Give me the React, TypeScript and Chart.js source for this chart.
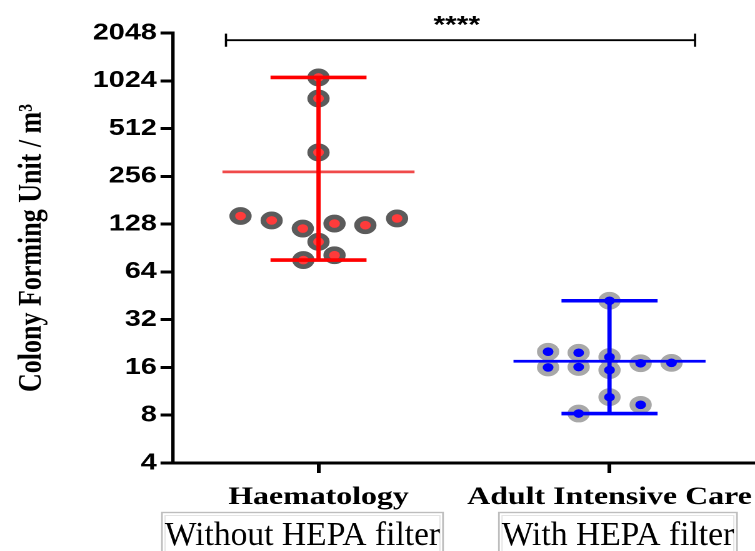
import { useEffect, useRef } from 'react';
import { Chart, registerables } from 'chart.js';

Chart.register(...registerables);

// The reference image is stretched sideways, so the chart is drawn on a
// narrower canvas and widened with CSS to the page width.
const PAGE_W = 755;
const PAGE_H = 551;
const STRETCH = 1.25;

const categories = ['Haematology', 'Adult Intensive Care'];
const filterLabels = ['Without HEPA filter', 'With HEPA filter'];
const yTicks = [4, 8, 16, 32, 64, 128, 256, 512, 1024, 2048];

// CFU / m3 per sample, and the sideways spread of each dot in its column
const haemValues = [1075, 792, 362, 144, 135, 120, 129, 126, 139, 99, 76, 81.5];
const haemSpread = [0, 0, 0, -0.268, -0.161, -0.054, 0.055, 0.161, 0.27, 0, -0.052, 0.055];
const aicValues = [42.1, 20.1, 16.0, 19.8, 16.1, 18.6, 15.4, 17.0, 17.1, 10.4, 9.3, 8.2];
const aicSpread = [0, -0.211, -0.211, -0.106, -0.106, 0, 0, 0.107, 0.213, 0, 0.107, -0.106];

// significance bracket between the two groups
const sigSpan = [-0.318, 1.294];
const sigLevel = 1845;
const sigText = '****';

const serif = '"Liberation Serif", "Times New Roman", serif';
const sans = '"Liberation Sans", Arial, sans-serif';

const mean = (v: number[]) => v.reduce((s, n) => s + n, 0) / v.length;

const line = (data: { x: number; y: number }[], color: string, width: number) => ({
  data,
  showLine: true,
  borderColor: color,
  borderWidth: width,
  pointRadius: 0,
  fill: false,
  clip: false as const,
});

// range bar with caps plus the mean line for one column
function groupLines(center: number, values: number[], barColor: string, meanColor: string, meanWidth: number) {
  const lo = Math.min(...values);
  const hi = Math.max(...values);
  const m = mean(values);
  const cap = 0.165;
  const half = 0.33;
  return [
    line([{ x: center, y: lo }, { x: center, y: hi }], barColor, 3.4),
    line([{ x: center - cap, y: hi }, { x: center + cap, y: hi }], barColor, 3.6),
    line([{ x: center - cap, y: lo }, { x: center + cap, y: lo }], barColor, 3.6),
    line([{ x: center - half, y: m }, { x: center + half, y: m }], meanColor, meanWidth),
  ];
}

const dots = (center: number, values: number[], spread: number[], fill: string, ring: string) => ({
  data: values.map((v, i) => ({ x: center + spread[i], y: v })),
  showLine: false,
  pointRadius: 6.6,
  pointHoverRadius: 6.6,
  pointBorderWidth: 4.6,
  pointBackgroundColor: fill,
  pointBorderColor: ring,
  clip: false as const,
});

const annotations = {
  id: 'annotations',
  afterDraw(chart: Chart) {
    const { ctx } = chart;
    const x = chart.scales.x;
    const boxes = [
      { c: -0.055, h: 0.483 },
      { c: 1.029, h: 0.409 },
    ];
    ctx.save();
    boxes.forEach((b, i) => {
      const l = x.getPixelForValue(b.c - b.h);
      const r = x.getPixelForValue(b.c + b.h);
      const top = 512.5;
      ctx.strokeStyle = '#bdbdbd';
      ctx.lineWidth = 1.4;
      ctx.strokeRect(l, top, r - l, 60);
      ctx.strokeStyle = '#e4e4e4';
      ctx.lineWidth = 1;
      ctx.strokeRect(l + 2.5, top + 3, r - l - 5, 60);

      ctx.save();
      ctx.translate((l + r) / 2, 545);
      ctx.scale(0.79, 1);
      ctx.fillStyle = '#000';
      ctx.font = `34px ${serif}`;
      ctx.textAlign = 'center';
      ctx.textBaseline = 'alphabetic';
      ctx.fillText(filterLabels[i], 0, 0);
      ctx.restore();
    });

    ctx.fillStyle = '#000';
    ctx.font = `bold 24px ${sans}`;
    ctx.textAlign = 'center';
    ctx.textBaseline = 'alphabetic';
    ctx.fillText(sigText, x.getPixelForValue(0.475), 32.5);
    ctx.restore();
  },
};

export default function App() {
  const canvasRef = useRef<HTMLCanvasElement>(null);

  useEffect(() => {
    document.body.style.margin = '0';
    if (!canvasRef.current) return;

    const chart = new Chart(canvasRef.current, {
      type: 'scatter',
      data: {
        datasets: [
          line([{ x: sigSpan[0], y: sigLevel }, { x: sigSpan[1], y: sigLevel }], '#000', 1.8),
          line([{ x: sigSpan[0], y: sigLevel / 1.1 }, { x: sigSpan[0], y: sigLevel * 1.1 }], '#000', 1.8),
          line([{ x: sigSpan[1], y: sigLevel / 1.1 }, { x: sigSpan[1], y: sigLevel * 1.1 }], '#000', 1.8),
          ...groupLines(0, haemValues, '#ff0000', '#f04a4a', 2.8),
          ...groupLines(1, aicValues, '#0000ff', '#0000ff', 2.8),
          dots(0, haemValues, haemSpread, '#ff3b3b', '#5b5b5b'),
          dots(1, aicValues, aicSpread, '#0000ff', '#a8a8a8'),
        ] as any,
      },
      options: {
        responsive: false,
        devicePixelRatio: 2,
        animation: false,
        events: [],
        layout: { autoPadding: false, padding: { top: 33, left: 0, right: 0, bottom: 0 } },
        plugins: {
          legend: { display: false },
          tooltip: { enabled: false },
        },
        scales: {
          x: {
            type: 'linear',
            min: -0.5,
            max: 1.5,
            afterBuildTicks: (scale) => {
              scale.ticks = categories.map((_, i) => ({ value: i }));
            },
            afterFit: (scale: any) => {
              scale.height = PAGE_H - 463;
              scale.paddingLeft = 0;
              scale.paddingRight = 0;
            },
            ticks: {
              autoSkip: false,
              maxRotation: 0,
              padding: 9,
              color: '#000',
              font: { family: serif, size: 25.5, weight: 'bold' },
              callback: (v) => categories[Number(v)] ?? '',
            },
            grid: {
              display: true,
              drawOnChartArea: false,
              tickLength: 10,
              tickWidth: 3,
              tickColor: '#000',
            },
            border: { display: true, color: '#000', width: 3 },
          },
          y: {
            type: 'logarithmic',
            min: 4,
            max: 2048,
            afterBuildTicks: (scale) => {
              scale.ticks = yTicks.map((v) => ({ value: v }));
            },
            afterFit: (scale: any) => {
              scale.width = 173 / STRETCH;
              scale.paddingTop = 0;
              scale.paddingBottom = 0;
            },
            ticks: {
              padding: 3,
              color: '#000',
              font: { family: sans, size: 23, weight: 'bold' },
              callback: (v) => String(v),
            },
            grid: {
              display: true,
              drawOnChartArea: false,
              tickLength: 10,
              tickWidth: 3,
              tickColor: '#000',
            },
            border: { display: true, color: '#000', width: 2.7 },
            title: {
              display: true,
              text: 'Colony Forming Unit / m³',
              color: '#000',
              font: { family: serif, size: 26, weight: 'bold' },
              padding: { top: 10, bottom: 0 },
            },
          },
        },
      },
      plugins: [annotations],
    });

    return () => {
      chart.destroy();
    };
  }, []);

  return (
    <div style={{ width: PAGE_W, height: PAGE_H, overflow: 'hidden' }}>
      <canvas
        ref={canvasRef}
        width={PAGE_W / STRETCH}
        height={PAGE_H}
        style={{ width: `${PAGE_W}px`, height: `${PAGE_H}px`, display: 'block' }}
      />
    </div>
  );
}
